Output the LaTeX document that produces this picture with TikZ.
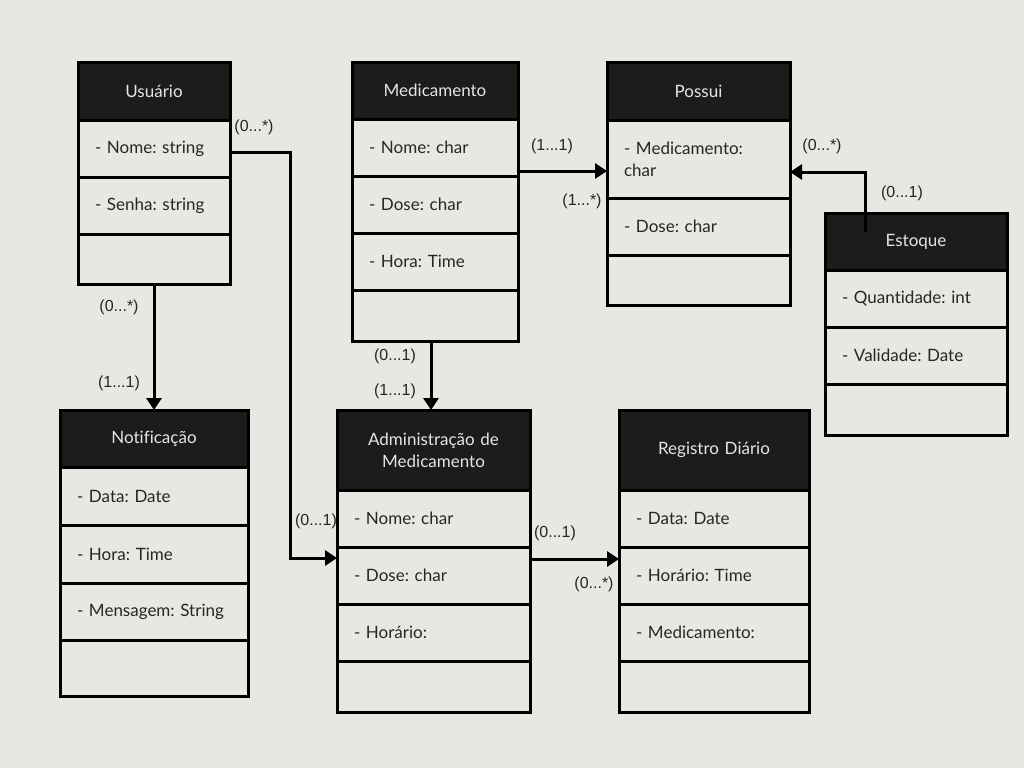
\documentclass[tikz,border=0pt]{standalone}
\usepackage{fontspec}
\setmainfont{Lato}[Ligatures=NoCommon]
\newfontfamily\multfont{Liberation Sans}
\usetikzlibrary{arrows.meta,positioning}

\definecolor{paper}{HTML}{E8E7E1}
\definecolor{headfill}{HTML}{1C1C1C}
\definecolor{ink}{HTML}{262626}
\frenchspacing

\begin{document}
\begin{tikzpicture}[
    x=1pt, y=-1pt,
    head/.style={draw=black, line width=3pt, fill=headfill, text=white!90!black, outer sep=0pt, inner sep=0pt, text width=#1, align=center, font=\fontsize{17}{22}\selectfont},
    row/.style={draw=black, line width=3pt, fill=paper, text=ink, outer sep=0pt, inner xsep=17pt, inner ysep=0pt, text width=#1, align=left, minimum height=57pt, font=\fontsize{17}{22}\selectfont},
    arrow/.style={-{Triangle[length=12pt,width=15pt]}, line width=3pt},
    mult/.style={font=\multfont\fontsize{16}{18}\selectfont, text=ink, inner sep=0pt}
]
\fill[paper] (0,0) rectangle (1024,768);
\useasboundingbox (0,0) rectangle (1024,768);

% Usuario
\node[head=152pt, minimum height=58pt] (usu) at (154,91) {Usuário};
\node[row=118pt, below=0pt of usu] (usu1) {- Nome: string};
\node[row=118pt, below=0pt of usu1] (usu2) {- Senha: string};
\node[row=118pt, minimum height=50pt, below=0pt of usu2] (usu3) {};

% Medicamento
\node[head=166pt, minimum height=57pt] (med) at (435,90.5) {Medicamento};
\node[row=132pt, below=0pt of med] (med1) {- Nome: char};
\node[row=132pt, below=0pt of med1] (med2) {- Dose: char};
\node[row=132pt, below=0pt of med2] (med3) {- Hora: Time};
\node[row=132pt, minimum height=51pt, below=0pt of med3] (med4) {};

% Possui
\node[head=183pt, minimum height=58pt] (pos) at (698.5,91) {Possui};
\node[row=149pt, minimum height=78pt, below=0pt of pos] (pos1) {- Medicamento:\\char};
\node[row=149pt, below=0pt of pos1] (pos2) {- Dose: char};
\node[row=149pt, minimum height=50pt, below=0pt of pos2] (pos3) {};

% Estoque
\node[head=182pt, minimum height=57pt] (est) at (916,241.5) {Estoque};
\node[row=148pt, below=0pt of est] (est1) {- Quantidade: int};
\node[row=148pt, below=0pt of est1] (est2) {- Validade: Date};
\node[row=148pt, minimum height=51pt, below=0pt of est2] (est3) {};

% Notificacao
\node[head=188pt, minimum height=57pt] (noti) at (154,438.5) {Notificação};
\node[row=154pt, minimum height=58pt, below=0pt of noti] (noti1) {- Data: Date};
\node[row=154pt, minimum height=58pt, below=0pt of noti1] (noti2) {- Hora: Time};
\node[row=154pt, below=0pt of noti2] (noti3) {- Mensagem: String};
\node[row=154pt, minimum height=56pt, below=0pt of noti3] (noti4) {};

% Administracao de Medicamento
\node[head=193pt, minimum height=80pt] (adm) at (433.5,450) {Administração de\\Medicamento};
\node[row=159pt, below=0pt of adm] (adm1) {- Nome: char};
\node[row=159pt, below=0pt of adm1] (adm2) {- Dose: char};
\node[row=159pt, below=0pt of adm2] (adm3) {- Horário:};
\node[row=159pt, minimum height=51pt, below=0pt of adm3] (adm4) {};

% Registro Diario
\node[head=190pt, minimum height=80pt] (reg) at (714,450) {Registro Diário};
\node[row=156pt, below=0pt of reg] (reg1) {- Data: Date};
\node[row=156pt, below=0pt of reg1] (reg2) {- Horário: Time};
\node[row=156pt, below=0pt of reg2] (reg3) {- Medicamento:};
\node[row=156pt, minimum height=51pt, below=0pt of reg3] (reg4) {};

% connectors
\draw[arrow] ([yshift=-4pt]usu1.east) -- ++(60,0) |- ([yshift=-11pt]adm2.north west);
\draw[arrow] (usu3.south) -- (noti.north);
\draw[arrow] ([yshift=5pt]med1.south east) -- ([yshift=5pt]med1.south east -| pos1.west);
\draw[arrow] ([xshift=-4pt]med4.south) -- ([xshift=-4pt]med4.south |- adm.north);
\draw[arrow] ([xshift=-51pt,yshift=-19pt]est.north) |- ([yshift=-13pt]pos1.east);
\draw[arrow] ([yshift=-12pt]adm2.north east) -- ([yshift=-12pt]reg2.north west);

% multiplicities
\node[mult] (m1) at (254,127) {(0...*)};
\node[mult] (m2) at (316,521) {(0...1)};
\node[mult] (m3) at (119,307) {(0...*)};
\node[mult] (m4) at (119,383) {(1...1)};
\node[mult] (m5) at (552,146) {(1...1)};
\node[mult] (m6) at (582,201) {(1...*)};
\node[mult] (m7) at (395,356) {(0...1)};
\node[mult] (m8) at (395,391) {(1...1)};
\node[mult] (m9) at (822,146) {(0...*)};
\node[mult] (m10) at (902,193) {(0...1)};
\node[mult] (m11) at (555,533) {(0...1)};
\node[mult] (m12) at (594,584) {(0...*)};
\end{tikzpicture}
\end{document}
